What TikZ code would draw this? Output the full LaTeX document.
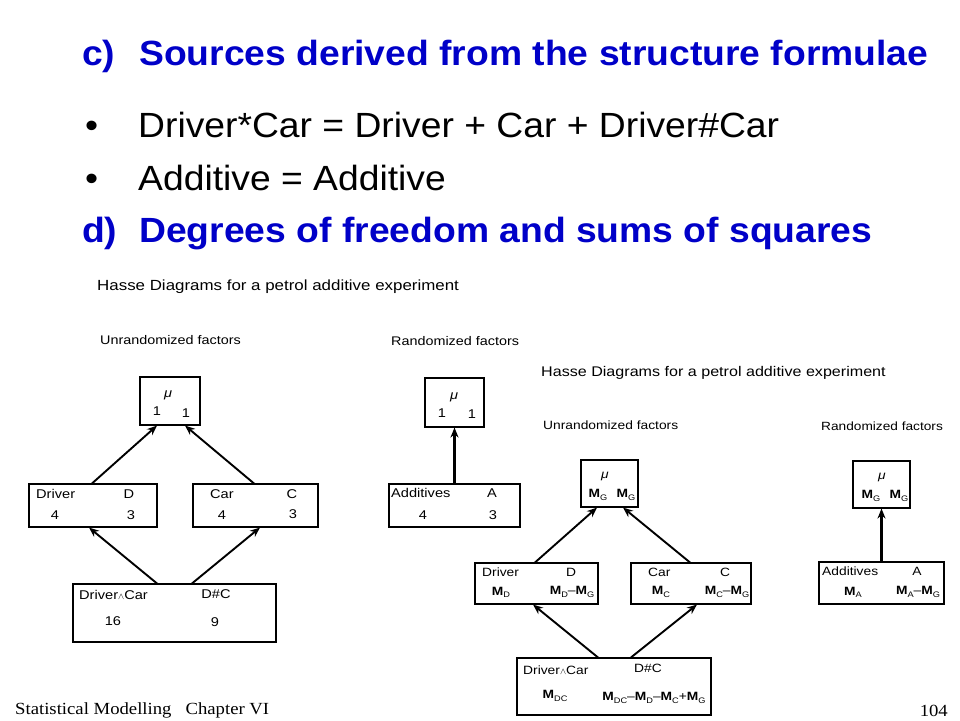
\documentclass[tikz,border=0pt]{standalone}
\usepackage{fontspec}
\setmainfont{Liberation Sans}
\newfontfamily\hfont[FakeStretch=1.065]{Liberation Sans}
\newfontfamily\dfont[FakeStretch=1.15]{Liberation Sans}
\newfontfamily\ffont[FakeStretch=1.1]{Liberation Serif}
\usetikzlibrary{arrows.meta}
\definecolor{hblue}{RGB}{0,0,200}
\newcommand\Mb[1]{\textbf{M}\raisebox{-0.35ex}{\fontsize{8}{8}\selectfont #1}}
\newcommand\fsz[1]{\fontsize{#1}{#1}\selectfont}
\begin{document}
\begin{tikzpicture}[x=1pt,y=-1pt,
  box/.style={draw, line width=1.1pt, inner sep=0pt},
  lbl/.style={inner sep=0pt, font=\dfont\fsz{12.7}},
  rlbl/.style={inner sep=0pt, font=\dfont\fsz{12}},
  ttl/.style={inner sep=0pt, anchor=west},
  head/.style={inner sep=0pt, anchor=base west, text=hblue, font=\hfont\fsz{35}\bfseries},
  bul/.style={inner sep=0pt, anchor=base west, font=\hfont\fsz{35}},
  foot/.style={inner sep=0pt, font=\ffont\fsz{17}},
  arr/.style={line width=1.9pt, -{Stealth[length=10pt,width=8pt]}},
  varr/.style={line width=2.6pt, -{Stealth[length=10pt,width=8pt]}}]
\useasboundingbox (0,0) rectangle (960,720);
% headings
\node[head] (hc) at (82,65.5) {c)};
\node[head] (hct) at (139,65.5) {Sources derived from the structure formulae};
\node[bul] (b1) at (85,137) {•};
\node[bul] (b1t) at (138,137) {Driver*Car = Driver + Car + Driver\#Car};
\node[bul] (b2) at (85,190) {•};
\node[bul] (b2t) at (138,190) {Additive = Additive};
\node[head] (hd) at (82,242) {d)};
\node[head] (hdt) at (139,242) {Degrees of freedom and sums of squares};
% ===== left diagram =====
\node[ttl, font=\dfont\fsz{14.7}] (lt) at (97,287) {Hasse Diagrams for a petrol additive experiment};
\node[ttl, font=\dfont\fsz{12.5}] (lu) at (100,340) {Unrandomized factors};
\node[ttl, font=\dfont\fsz{12.5}] (lr) at (391,341) {Randomized factors};
\node[box, minimum width=60, minimum height=48] (lmu) at (170,401) {};
\node[lbl] (lmus) at (168,395) {\itshape μ};
\node[lbl] (lmua) at (157,411) {1};
\node[lbl] (lmub) at (186,413) {1};
\node[box, minimum width=128, minimum height=43] (ldr) at (93,505.5) {};
\node[lbl, anchor=west] (ldra) at (36,494) {Driver};
\node[lbl] (ldrb) at (129,494) {D};
\node[lbl] (ldrc) at (55,515) {4};
\node[lbl] (ldrd) at (131,515) {3};
\node[box, minimum width=125, minimum height=43] (lca) at (255.5,505.5) {};
\node[lbl, anchor=west] (lcaa) at (210,494) {Car};
\node[lbl] (lcab) at (292,494) {C};
\node[lbl] (lcac) at (222,515) {4};
\node[lbl] (lcad) at (293,514) {3};
\node[box, minimum width=203, minimum height=58] (ldc) at (174.5,613) {};
\node[lbl, anchor=west] (ldca) at (79,595) {Driver{\fsz{9}$\wedge$}Car};
\node[lbl] (ldcb) at (216,594) {D\#C};
\node[lbl] (ldcc) at (113,621) {16};
\node[lbl] (ldcd) at (215,622) {9};
\node[box, minimum width=59, minimum height=49] (lrmu) at (454.5,402.5) {};
\node[lbl] (lrmus) at (454,397) {\itshape μ};
\node[lbl] (lrmua) at (442,413) {1};
\node[lbl] (lrmub) at (472,414) {1};
\node[box, minimum width=131, minimum height=43] (lad) at (454.5,505.5) {};
\node[lbl, anchor=west] (lada) at (391,493) {Additives};
\node[lbl] (ladb) at (492,493) {A};
\node[lbl] (ladc) at (423,515) {4};
\node[lbl] (ladd) at (493,515) {3};
\draw[arr] ([xshift=-1]ldr.north) -- ([xshift=-13]lmu.south);
\draw[arr] ([xshift=-1.5]lca.north) -- ([xshift=15]lmu.south);
\draw[arr] ([xshift=-17.5]ldc.north) -- ([xshift=-4]ldr.south);
\draw[arr] ([xshift=17.5]ldc.north) -- ([xshift=4.5]lca.south);
\draw[varr] (lad.north) -- (lrmu.south);
% ===== right diagram =====
\node[ttl, font=\dfont\fsz{14}] (rt) at (541,373) {Hasse Diagrams for a petrol additive experiment};
\node[ttl, font=\dfont\fsz{12}] (ru) at (543,425) {Unrandomized factors};
\node[ttl, font=\dfont\fsz{11.9}] (rr) at (821,426) {Randomized factors};
\node[box, minimum width=57, minimum height=47] (rmu) at (609.5,483.5) {};
\node[rlbl] (rmus) at (605,476) {\itshape μ};
\node[rlbl] (rmua) at (598,495) {\Mb{G}};
\node[rlbl] (rmub) at (626,495) {\Mb{G}};
\node[box, minimum width=123, minimum height=41] (rdr) at (536.5,583.5) {};
\node[rlbl, anchor=west] (rdra) at (482,572) {Driver};
\node[rlbl] (rdrb) at (571,572) {D};
\node[rlbl] (rdrc) at (501,592) {\Mb{D}};
\node[rlbl] (rdrd) at (572,592) {\Mb{D}–\Mb{G}};
\node[box, minimum width=120, minimum height=41] (rca) at (691,583.5) {};
\node[rlbl, anchor=west] (rcaa) at (648,572) {Car};
\node[rlbl] (rcab) at (725,572) {C};
\node[rlbl] (rcac) at (661,592) {\Mb{C}};
\node[rlbl] (rcad) at (727,592) {\Mb{C}–\Mb{G}};
\node[box, minimum width=194, minimum height=57] (rdc) at (614,686.5) {};
\node[rlbl, anchor=west] (rdca) at (523,670) {Driver{\fsz{9}$\wedge$}Car};
\node[rlbl] (rdcb) at (648,668) {D\#C};
\node[rlbl] (rdcc) at (555,696) {\Mb{DC}};
\node[rlbl] (rdcd) at (654,698) {\Mb{DC}–\Mb{D}–\Mb{C}+\Mb{G}};
\node[box, minimum width=57, minimum height=47] (rrmu) at (881.5,484.5) {};
\node[rlbl] (rrmus) at (882,477) {\itshape μ};
\node[rlbl] (rrmua) at (871,496) {\Mb{G}};
\node[rlbl] (rrmub) at (899,496) {\Mb{G}};
\node[box, minimum width=125, minimum height=42] (rad) at (881.5,583) {};
\node[rlbl, anchor=west] (rada) at (822,571) {Additives};
\node[rlbl] (radb) at (917,571) {A};
\node[rlbl] (radc) at (853,592) {\Mb{A}};
\node[rlbl] (radd) at (918,592) {\Mb{A}–\Mb{G}};
\draw[arr] ([xshift=-1.5]rdr.north) -- ([xshift=-12.5]rmu.south);
\draw[arr] ([xshift=-1]rca.north) -- ([xshift=13.5]rmu.south);
\draw[arr] ([xshift=-16]rdc.north) -- ([xshift=-3.5]rdr.south);
\draw[arr] ([xshift=17]rdc.north) -- ([xshift=6]rca.south);
\draw[varr] (rad.north) -- (rrmu.south);
% footer
\node[foot, anchor=west] (f1) at (15,710) {Statistical Modelling\ \ \ Chapter VI};
\node[foot, anchor=east] (f2) at (948,711) {104};
\end{tikzpicture}
\end{document}
